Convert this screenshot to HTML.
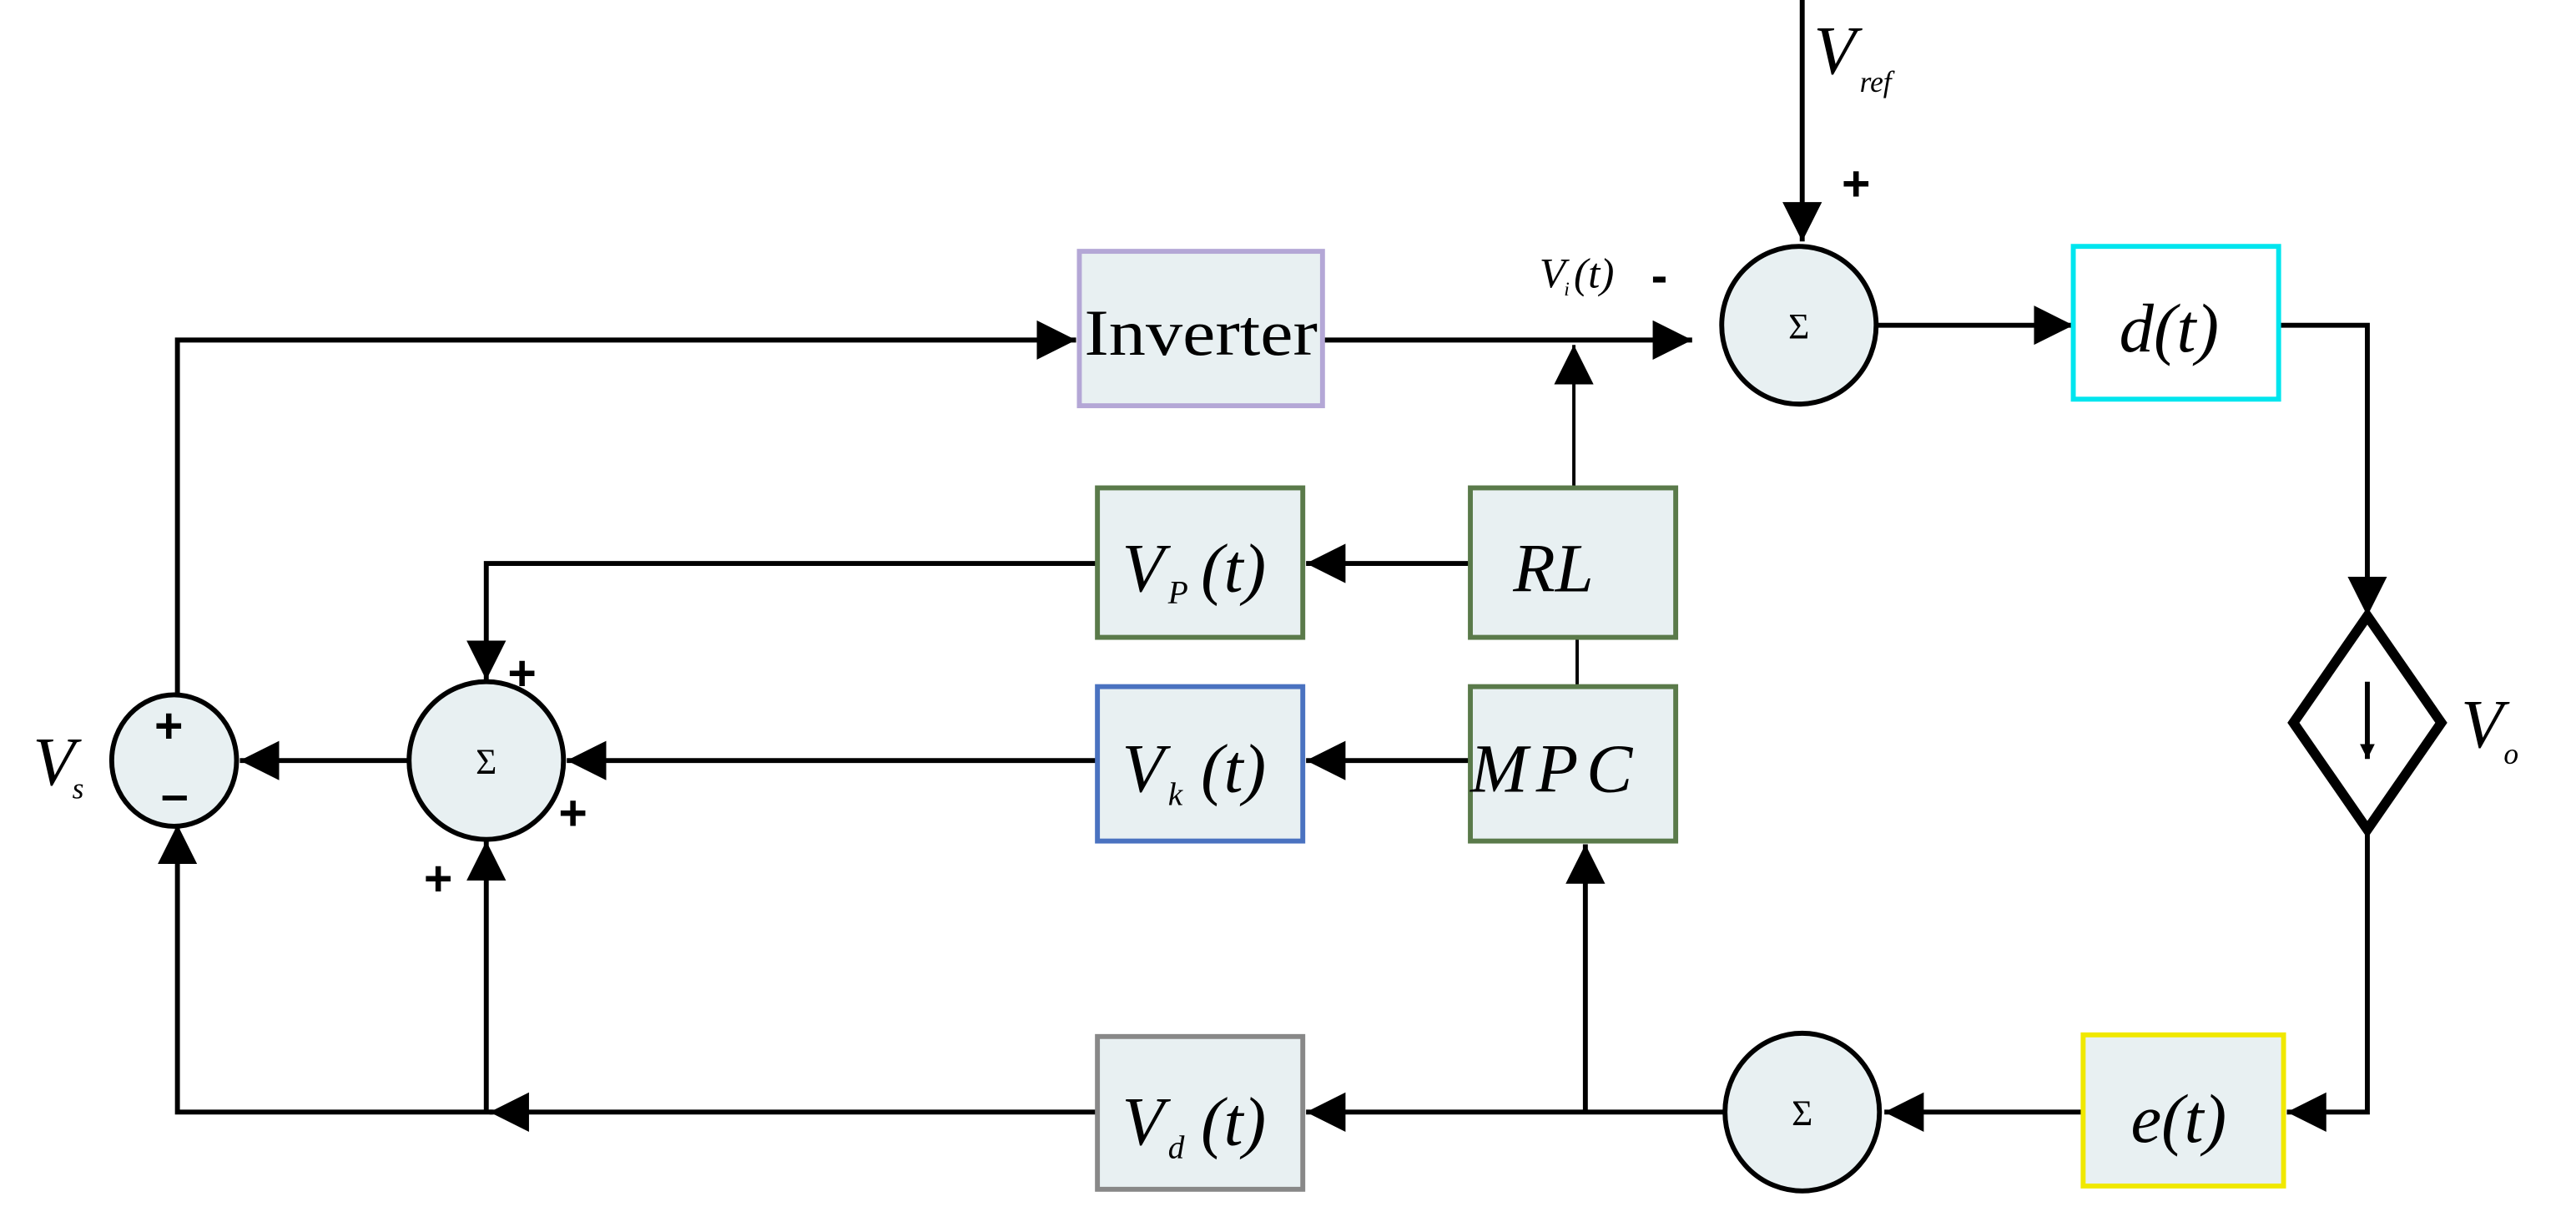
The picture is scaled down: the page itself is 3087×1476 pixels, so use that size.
<!DOCTYPE html>
<html><head><style>html,body{margin:0;padding:0;background:#fff}svg{display:block}</style></head><body>
<svg width="3087" height="1476" viewBox="0 0 1568 750" preserveAspectRatio="none" xmlns="http://www.w3.org/2000/svg">
<defs><marker id="a" viewBox="0 0 10 10" refX="10" refY="5" markerWidth="9" markerHeight="9" markerUnits="userSpaceOnUse" orient="auto"><path d="M0,0L10,5L0,10z" fill="#000"/></marker>
<marker id="b" viewBox="0 0 10 10" refX="10" refY="5" markerWidth="24" markerHeight="24" markerUnits="userSpaceOnUse" orient="auto"><path d="M0,0L10,5L0,10z" fill="#000"/></marker></defs>
<g fill="none" stroke="#000" stroke-width="3">
<path d="M108,424V207H655" marker-end="url(#b)"/>
<path d="M805,207H1030" marker-end="url(#b)"/>
<path d="M1097,0V147" marker-end="url(#b)"/>
<path d="M1142,198H1262" marker-end="url(#b)"/>
<path d="M1387,198H1441V375" marker-end="url(#b)"/>
<path d="M1441,505V677H1392" marker-end="url(#b)"/>
<path d="M1268,677H1147" marker-end="url(#b)"/>
<path d="M1050,677H795" marker-end="url(#b)"/>
<path d="M965,677V514" marker-end="url(#b)"/>
<path d="M668,677H298" marker-end="url(#b)"/>
<path d="M300,677H108V502" marker-end="url(#b)"/>
<path d="M296,677V512" marker-end="url(#b)"/>
<path d="M668,343H296V414" marker-end="url(#b)"/>
<path d="M668,463H345" marker-end="url(#b)"/>
<path d="M249,463H146" marker-end="url(#b)"/>
<path d="M895,343H795" marker-end="url(#b)"/>
<path d="M895,463H795" marker-end="url(#b)"/>
<path d="M958,297V210" stroke-width="2" marker-end="url(#b)"/>
<path d="M960,388V418" stroke-width="2"/>
</g>
<g stroke-width="3">
<rect x="657" y="153" width="148" height="94" fill="#e8f0f2" stroke="#b4a7d6"/>
<rect x="1262" y="150" width="125" height="93" fill="#fff" stroke="#00e5ee"/>
<rect x="895" y="297" width="125" height="91" fill="#e8f0f2" stroke="#5a7a4a"/>
<rect x="895" y="418" width="125" height="94" fill="#e8f0f2" stroke="#5a7a4a"/>
<rect x="668" y="297" width="125" height="91" fill="#e8f0f2" stroke="#5a7a4a"/>
<rect x="668" y="418" width="125" height="94" fill="#e8f0f2" stroke="#4a72c0"/>
<rect x="668" y="631" width="125" height="93" fill="#e8f0f2" stroke="#888"/>
<rect x="1268" y="630" width="122" height="92" fill="#e8f0f2" stroke="#f0e800"/>
<g fill="#e8f0f2" stroke="#000">
<ellipse cx="1095" cy="198" rx="47" ry="48"/>
<ellipse cx="1097" cy="677" rx="47" ry="48"/>
<ellipse cx="296" cy="463" rx="47" ry="48"/>
<ellipse cx="106" cy="463" rx="38" ry="40"/>
</g>
<path d="M1441,375L1486,440L1441,505L1396,440Z" fill="#fff" stroke="#000" stroke-width="6"/>
<path d="M1441,415V462" stroke="#000" stroke-width="3" marker-end="url(#a)"/>
</g>
<g font-family="Liberation Serif, serif" fill="#000">
<text x="731" y="216" font-size="40" text-anchor="middle" textLength="142" lengthAdjust="spacingAndGlyphs">Inverter</text>
<g font-size="22" text-anchor="middle"><text x="1095" y="206">Σ</text><text x="1097" y="685">Σ</text><text x="296" y="471">Σ</text></g>
<g font-style="italic" font-size="42">
<text x="1290" y="214">d(t)</text>
<text x="921" y="360">RL</text>
<text x="895" y="482" letter-spacing="5">MPC</text>
<text x="683" y="360">V</text><text x="711" y="367" font-size="20">P</text><text x="731" y="360">(t)</text>
<text x="683" y="482">V</text><text x="711" y="490" font-size="20">k</text><text x="731" y="482">(t)</text>
<text x="683" y="697">V</text><text x="711" y="705" font-size="20">d</text><text x="731" y="697">(t)</text>
<text x="1297" y="695">e(t)</text>
<text x="1104" y="45">V</text><text x="1132" y="56" font-size="18">ref</text>
<text x="1498" y="455">V</text><text x="1524" y="465" font-size="18">o</text>
<text x="20" y="478">V</text><text x="44" y="486" font-size="18">s</text>
<text x="937" y="175" font-size="26">V</text><text x="952" y="180" font-size="12">i</text><text x="958" y="175" font-size="26">(t)</text>
</g>
<g font-family="Liberation Sans, sans-serif" font-weight="bold" font-size="30">
<text x="1121" y="122">+</text><text x="1005" y="178">-</text>
<text x="94" y="452">+</text><text x="98" y="494">–</text>
<text x="309" y="420">+</text><text x="340" y="505">+</text><text x="258" y="545">+</text>
</g>
</g>
</svg>
</body></html>
